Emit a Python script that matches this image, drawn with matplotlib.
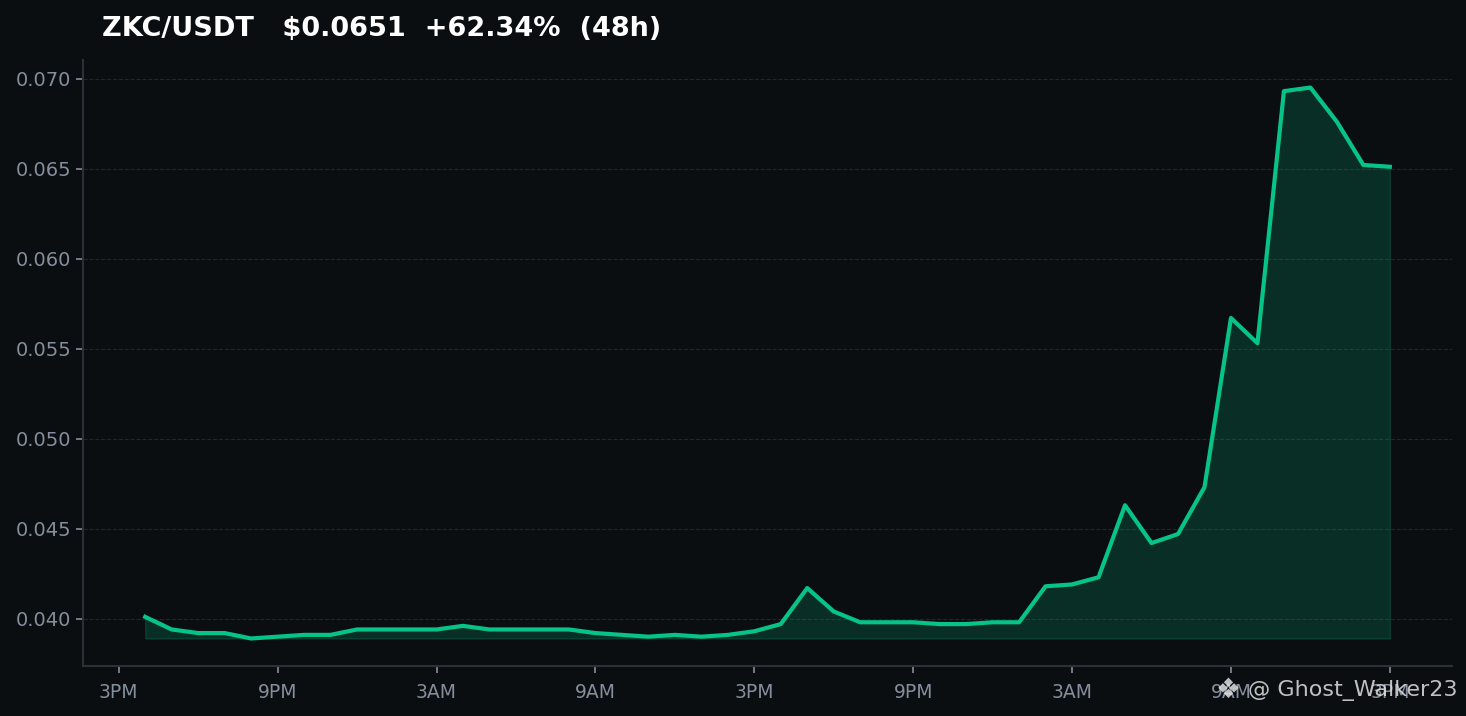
import matplotlib
matplotlib.use('Agg')
import matplotlib.pyplot as plt
import numpy as np

# hourly closes, 48h window (hour 1 = 4PM day 1 ... hour 48 = 3PM day 3)
hours = list(range(1, 49))
prices = [0.0401, 0.0394, 0.0392, 0.0392, 0.0389, 0.0390, 0.0391, 0.0391,
          0.0394, 0.0394, 0.0394, 0.0394, 0.0396, 0.0394, 0.0394, 0.0394,
          0.0394, 0.0392, 0.0391, 0.0390, 0.0391, 0.0390, 0.0391, 0.0393,
          0.0397, 0.0417, 0.0404, 0.0398, 0.0398, 0.0398, 0.0397, 0.0397,
          0.0398, 0.0398, 0.0418, 0.0419, 0.0423, 0.0463, 0.0442, 0.0447,
          0.0473, 0.0567, 0.0553, 0.0693, 0.0695, 0.0676, 0.0652, 0.0651]
tick_hours = [0, 6, 12, 18, 24, 30, 36, 42, 48]
tick_labels = ['3PM', '9PM', '3AM', '9AM', '3PM', '9PM', '3AM', '9AM', '3PM']

bg = '#0b0e11'
green = '#05c486'
grey = '#848e9c'

fig = plt.figure(figsize=(14.66, 7.16), dpi=100, facecolor=bg)
ax = fig.add_axes([0.0566, 0.0698, 0.9339, 0.8464])
ax.set_facecolor(bg)

ax.plot(hours, prices, color=green, linewidth=3)
ax.fill_between(hours, prices, min(prices), color=green, alpha=0.18)

ax.set_xticks(tick_hours)
ax.set_xticklabels(tick_labels)
ax.set_yticks([0.040, 0.045, 0.050, 0.055, 0.060, 0.065, 0.070])
ax.yaxis.set_major_formatter(matplotlib.ticker.FormatStrFormatter('%.3f'))
ax.tick_params(colors=grey, labelsize=13.5, length=5, width=1.2)
ax.tick_params(axis='y', labelsize=14)
ax.tick_params(axis='x', pad=7)

for s in ['top', 'right']:
    ax.spines[s].set_visible(False)
for s in ['left', 'bottom']:
    ax.spines[s].set_color('#2b3139')
    ax.spines[s].set_linewidth(1.5)

ax.grid(axis='y', color='#2b3139', linestyle='--', linewidth=0.8, alpha=0.7)
ax.set_axisbelow(True)

fig.text(0.0696, 0.960, 'ZKC/USDT   $0.0651  +62.34%  (48h)', color='white',
         fontsize=19.5, fontweight='bold', va='center', ha='left')

# watermark
fig.text(0.8375, 0.036, '\u2756', color='#e0e0e0', alpha=0.85,
         fontsize=20, va='center', ha='center')
fig.text(0.9945, 0.036, '@ Ghost_Walker23', color='#e0e0e0', alpha=0.85,
         fontsize=16, va='center', ha='right')

fig.savefig('out.png', dpi=100, facecolor=bg)
